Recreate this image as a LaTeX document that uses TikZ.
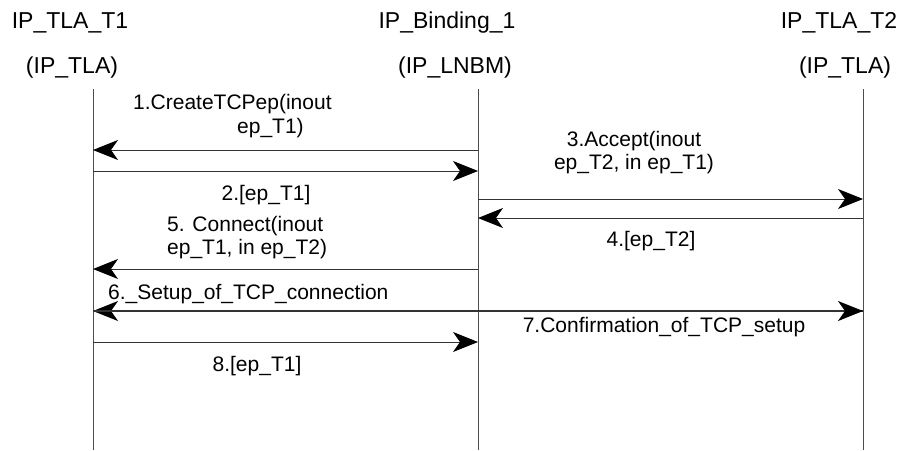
\documentclass[tikz,border=0pt]{standalone}
\usepackage{fontspec}
\setmainfont{Liberation Sans}
\usetikzlibrary{arrows.meta}
\begin{document}
\begin{tikzpicture}[x=1pt,y=-1pt,
  hdr/.style={inner sep=0pt, font=\fontsize{23}{27}\selectfont},
  lbl/.style={inner sep=0pt, font=\fontsize{21}{23.5}\selectfont},
  lifeline/.style={draw=black!70, line width=0.9pt},
  msg/.style={draw=black!80, line width=1pt, -{Stealth[length=25pt,width=20pt,inset=7pt,black]}},
  thickmsg/.style={msg, line width=1.8pt}]
\useasboundingbox (0,0) rectangle (904,450);
% headers
\node[hdr] (h1) at (70,22.5) {IP\_TLA\_T1};
\node[hdr] (h1b) at (72,68) {(IP\_TLA)};
\node[hdr] (h2) at (447,22.5) {IP\_Binding\_1};
\node[hdr] (h2b) at (455,68) {(IP\_LNBM)};
\node[hdr] (h3) at (839,22.5) {IP\_TLA\_T2};
\node[hdr] (h3b) at (845,68) {(IP\_TLA)};
% lifelines
\coordinate (L1t) at (93,89);  \coordinate (L1b) at (93,450);
\coordinate (L2t) at (478,89); \coordinate (L2b) at (478,450);
\coordinate (L3t) at (863,89); \coordinate (L3b) at (863,450);
\draw[lifeline] (L1t) -- (L1b);
\draw[lifeline] (L2t) -- (L2b);
\draw[lifeline] (L3t) -- (L3b);
% message end points
\coordinate (a1) at (93,150);  \coordinate (b1) at (478,150);
\coordinate (a2) at (93,171);  \coordinate (b2) at (478,171);
\coordinate (b3) at (478,199); \coordinate (c3) at (863,199);
\coordinate (b4) at (478,218); \coordinate (c4) at (863,218);
\coordinate (a5) at (93,269);  \coordinate (b5) at (478,269);
\coordinate (a6) at (93,311);  \coordinate (c6) at (863,311);
\coordinate (a8) at (93,342);  \coordinate (b8) at (478,342);
% messages
\draw[msg] (b1) -- (a1);
\draw[msg] (a2) -- (b2);
\draw[msg] (b3) -- (c3);
\draw[msg] (c4) -- (b4);
\draw[msg] (b5) -- (a5);
\draw[thickmsg] (c6) -- (a6);
\draw[thickmsg] (a6) -- (c6);
\draw[msg] (a8) -- (b8);
% labels
\node[lbl, anchor=west, align=left] (t1) at (133,116) {1.CreateTCPep(inout\\\hspace*{104pt}ep\_T1)};
\node[lbl] (t2) at (266,195) {2.[ep\_T1]};
\node[lbl, align=center] (t3) at (634,152.5) {3.Accept(inout\\ep\_T2, in ep\_T1)};
\node[lbl] (t4) at (651,241) {4.[ep\_T2]};
\node[lbl, anchor=west, align=left] (t5) at (167,237.5) {5. Connect(inout\\ep\_T1, in ep\_T2)};
\node[lbl, anchor=west] (t6) at (108,294) {6.\_Setup\_of\_TCP\_connection};
\node[lbl] (t7) at (664,327) {7.Confirmation\_of\_TCP\_setup};
\node[lbl] (t8) at (257,366) {8.[ep\_T1]};
\end{tikzpicture}
\end{document}
